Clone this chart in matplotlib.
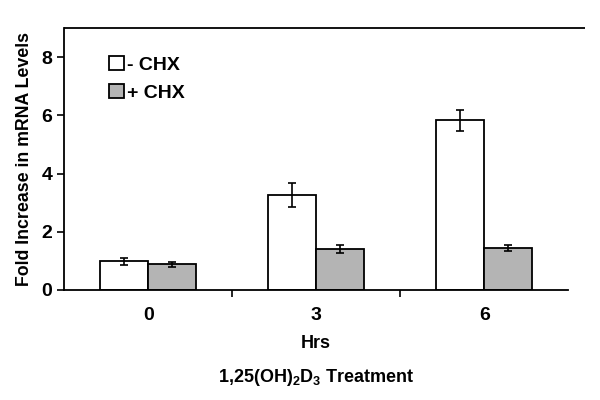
import matplotlib
matplotlib.use('Agg')
import matplotlib.pyplot as plt
import numpy as np

plt.rcParams['font.family'] = ['Liberation Sans', 'DejaVu Sans']
plt.rcParams['font.weight'] = 'bold'
plt.rcParams['mathtext.default'] = 'regular'

hours = ['0', '3', '6']
minus_chx = [0.98, 3.27, 5.83]
minus_err = [0.11, 0.41, 0.37]
plus_chx = [0.88, 1.40, 1.45]
plus_err = [0.08, 0.13, 0.11]

fig = plt.figure(figsize=(6, 4), dpi=100)
ax = fig.add_axes([0.107, 0.275, 0.84, 0.655])

x = np.arange(len(hours))
w = 0.287
ax.bar(x - w / 2, minus_chx, w, color='white', edgecolor='black', linewidth=1.3,
       label='- CHX', zorder=2)
ax.bar(x + w / 2, plus_chx, w, color='#b4b4b4', edgecolor='black', linewidth=1.3,
       label='+ CHX', zorder=2)
ax.errorbar(x - w / 2, minus_chx, yerr=minus_err, fmt='none', ecolor='black',
            elinewidth=1.2, capsize=3, capthick=1.2, zorder=3)
ax.errorbar(x + w / 2, plus_chx, yerr=plus_err, fmt='none', ecolor='black',
            elinewidth=1.2, capsize=3, capthick=1.2, zorder=3)

ax.set_xlim(-0.5, 2.5)
ax.set_ylim(0, 9)
ax.set_yticks([0, 2, 4, 6, 8])
ax.set_xticks(x)
ax.set_xticklabels(hours)
ax.set_xticks([0.5, 1.5], minor=True)
ax.tick_params(axis='x', which='major', length=0, pad=12, labelsize=14)
ax.tick_params(axis='x', which='minor', length=5, width=1.2, direction='out')
ax.tick_params(axis='y', length=5, width=1.2, labelsize=14)

for s in ['left', 'bottom']:
    ax.spines[s].set_linewidth(1.3)
ax.spines['right'].set_visible(False)
ax.spines['top'].set_visible(False)
ax.plot([0, 1.034], [1, 1], color='black', lw=1.3, transform=ax.transAxes,
        clip_on=False, solid_capstyle='butt')

ax.set_ylabel('Fold Increase in mRNA Levels', fontsize=12.8, fontweight='bold',
              labelpad=6)
ax.set_xlabel('Hrs\n1,25(OH)$_2$D$_3$ Treatment', fontsize=13, fontweight='bold',
              linespacing=2.0, labelpad=8)

leg = ax.legend(loc='upper left', bbox_to_anchor=(0.055, 0.96), frameon=False,
                fontsize=14, handlelength=0.75, handleheight=0.75,
                handletextpad=0.15, labelspacing=0.5)

fig.savefig('out.png', dpi=100)
